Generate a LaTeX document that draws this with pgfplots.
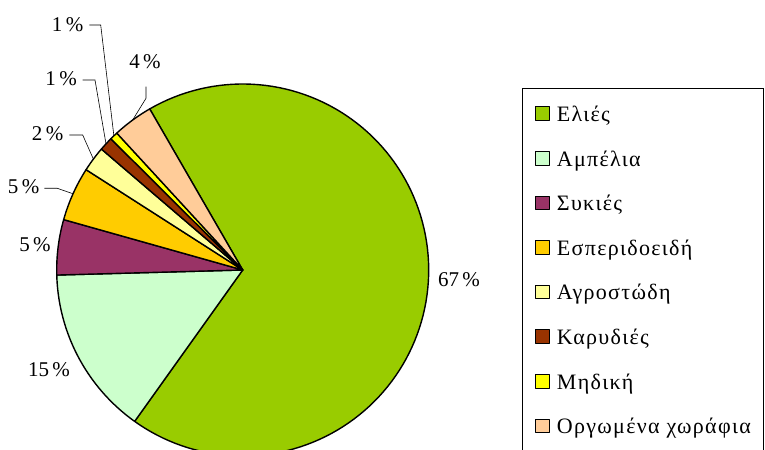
\documentclass[border=0pt]{standalone}
\usepackage{fontspec}
\setmainfont{Liberation Serif}
\newfontfamily\legfont[LetterSpace=6]{Liberation Serif}
\usepackage{pgfplots}
\pgfplotsset{compat=1.18}
\definecolor{cA}{RGB}{153,204,0}
\definecolor{cB}{RGB}{204,255,204}
\definecolor{cC}{RGB}{153,51,102}
\definecolor{cD}{RGB}{255,204,0}
\definecolor{cE}{RGB}{255,255,153}
\definecolor{cF}{RGB}{153,51,0}
\definecolor{cG}{RGB}{255,255,0}
\definecolor{cH}{RGB}{255,204,153}
\newcommand\lblfont{\fontsize{21bp}{25bp}\selectfont}
\newcommand\legsize{\fontsize{22bp}{26bp}\selectfont}
\begin{document}
\begin{tikzpicture}[font=\lblfont]
\path[use as bounding box, clip] (0,0) rectangle (765bp,450bp);
\begin{axis}[
  at={(0,0)}, anchor=south west,
  scale only axis, width=765bp, height=450bp,
  xmin=0, xmax=765, ymin=0, ymax=450,
  hide axis, clip=false,
  legend cell align=left,
  legend style={
    at={(0.68235,0.80444)}, anchor=north west,
    draw=black, line width=0.8bp,
    inner xsep=13bp, inner ysep=18bp,
    row sep=24.6bp, column sep=7bp,
    font=\legfont\legsize,
    nodes={inner sep=0pt, text height=14bp, text depth=5bp},
    column 2/.style={text width=215bp},
  },
  legend image code/.code={\draw[#1, draw=black, line width=1bp] (0bp,-3.5bp) rectangle (13.5bp,10bp);},
]
\xdef\cur{120}
\foreach \v/\c/\n in {68.2/cA/Ελιές, 14.7/cB/Αμπέλια, 4.8/cC/Συκιές, 4.7/cD/Εσπεριδοειδή, 2.2/cE/Αγροστώδη, 1.2/cF/Καρυδιές, 0.7/cG/Μηδική, 3.5/cH/Οργωμένα χωράφια} {
  \pgfmathsetmacro\a{\cur}
  \pgfmathsetmacro\b{\cur - 3.6*\v}
  \edef\temp{\noexpand\addplot[fill=\c, draw=black, line width=1.4bp, line join=round, domain=\b:\a, samples=120, variable=\noexpand\t] ({242.7+186*cos(\noexpand\t)},{180+186*sin(\noexpand\t)}) -- (axis cs:242.7,180) -- cycle; \noexpand\addlegendentry{\n}}
  \temp
  \global\let\cur\b
}
% data labels
\node at (axis cs:459,170) {67\,\%};
\node at (axis cs:49,80) {15\,\%};
\node at (axis cs:35,205) {5\,\%};
\node[anchor=east] at (axis cs:43,263) {5\,\%};
\node[anchor=east] at (axis cs:67,316) {2\,\%};
\node[anchor=east] at (axis cs:80.5,371) {1\,\%};
\node[anchor=east] at (axis cs:87,425) {1\,\%};
\node at (axis cs:145,388) {4\,\%};
% leader lines
\draw[black, line width=0.6bp] (axis cs:44.3,261.7) -- (axis cs:57.3,261.7) -- (axis cs:73.1,256.2);
\draw[black, line width=0.6bp] (axis cs:69.3,315) -- (axis cs:82.7,315) -- (axis cs:93.4,290.9);
\draw[black, line width=0.6bp] (axis cs:82.7,370) -- (axis cs:95,370) -- (axis cs:106,306.2);
\draw[black, line width=0.6bp] (axis cs:89.3,425) -- (axis cs:100.7,425) -- (axis cs:113.9,314.1);
\draw[black, line width=0.6bp] (axis cs:146,363.3) -- (axis cs:146,351.7) -- (axis cs:132.6,329.9);
\end{axis}
\end{tikzpicture}
\end{document}
